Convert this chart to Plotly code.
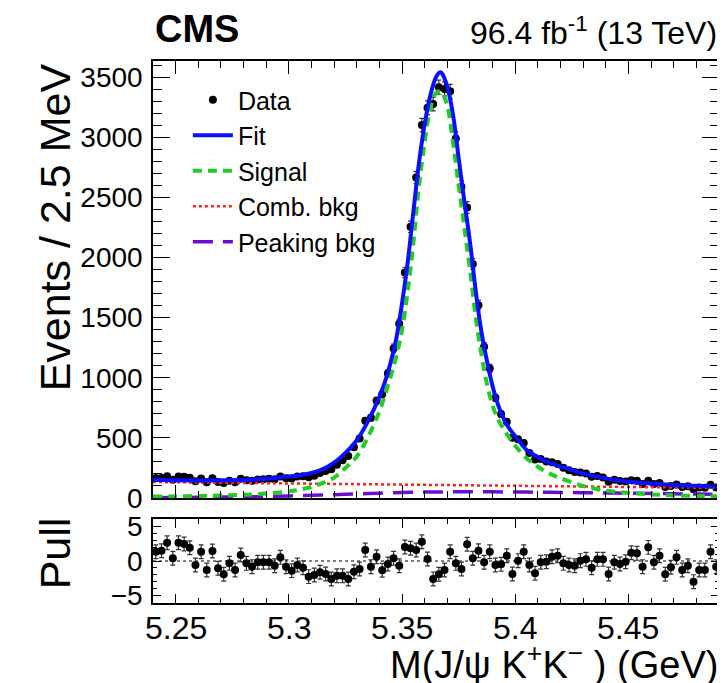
import plotly.graph_objects as go

# ---------------- data ----------------
mass_lo = 5.24
bin_width = 0.0025
n_bins = 100

counts = [166, 167, 180, 152, 179, 177, 169, 139, 162, 130,
          164, 134, 124, 143, 132, 160, 147, 143, 154, 157,
          160, 157, 178, 165, 162, 179, 180, 172, 186, 207,
          224, 239, 277, 315, 349, 423, 494, 643, 668, 808,
          864, 1036, 1244, 1449, 1876, 2256, 2666, 3102, 3246, 3278,
          3417, 3403, 3383, 2991, 2590, 2416, 1947, 1604, 1258, 1078,
          833, 699, 634, 501, 488, 458, 374, 320, 325, 303,
          297, 282, 251, 231, 216, 213, 203, 177, 182, 171,
          136, 151, 141, 138, 148, 143, 117, 144, 117, 124,
          92, 100, 113, 92, 97, 72, 87, 86, 110, 88]

pulls = [1.35, 1.5, 2.66, 0.39, 2.66, 2.46, 1.93, -0.58, 1.35, -1.3,
         1.45, -1.06, -1.93, -0.34, -1.3, 0.87, -0.34, -0.82, -0.19, -0.19,
         -0.19, -0.68, 0.53, -0.82, -1.4, -0.58, -0.97, -2.27, -2.03, -1.64,
         -1.88, -2.61, -2.13, -2.13, -2.61, -1.55, -1.16, 1.59, -0.82, 0.63,
         -1.35, -0.43, 0.39, -0.68, 2.03, 1.84, 1.59, 2.8, 0.29, -2.6,
         -1.93, -1.3, 1.35, -0.34, -1.16, 2.42, 0.39, 1.5, -0.19, 1.35,
         -0.58, -0.48, 0.77, -1.88, 0.05, 1.35, -0.58, -1.79, -0.19, -0.1,
         0.63, 0.77, -0.34, -0.58, -0.68, 0.05, 0.24, -0.97, 0.24, 0.24,
         -1.88, -0.19, -0.43, -0.1, 1.21, 1.11, -0.82, 1.98, -0.19, 0.77,
         -1.93, -0.92, 0.53, -1.3, -0.68, -3.0, -1.3, -1.3, 1.35, -0.82]

curve_mass = [5.240, 5.250, 5.260, 5.270, 5.280, 5.290, 5.300,
              5.305, 5.310, 5.315, 5.320, 5.325, 5.330, 5.335, 5.340,
              5.3425, 5.345, 5.3475, 5.350, 5.3525, 5.355, 5.3575, 5.360, 5.3625, 5.365,
              5.3667, 5.3675,
              5.370, 5.3725, 5.375, 5.3775, 5.380, 5.3825, 5.385, 5.3875, 5.390, 5.3925, 5.395, 5.3975, 5.400,
              5.405, 5.410, 5.415, 5.420,
              5.430, 5.440, 5.450, 5.460, 5.470, 5.480, 5.490]

fit_values = [150, 147, 146, 147, 150, 160, 178,
              190, 208, 240, 295, 375, 480, 640, 840,
              970, 1130, 1330, 1620, 1960, 2380, 2790, 3110, 3350, 3500,
              3540, 3535,
              3420, 3190, 2830, 2470, 2130, 1730, 1390, 1140, 930, 770, 655, 575, 515,
              400, 340, 294, 262,
              205, 163, 136, 120, 108, 101, 95]

signal_values = [12, 14, 17, 21, 27, 37, 55,
                 70, 92, 125, 170, 250, 345, 510, 720,
                 860, 1010, 1180, 1400, 1720, 2120, 2600, 2960, 3240, 3370,
                 3385, 3380,
                 3260, 2960, 2600, 2250, 1900, 1510, 1200, 950, 770, 650, 570, 500, 435,
                 330, 260, 205, 165,
                 100, 62, 42, 30, 22, 17, 14]

comb_mass = [5.24, 5.49]
comb_values = [133, 84]

peak_mass = [5.24, 5.25, 5.26, 5.27, 5.28, 5.29, 5.30, 5.31, 5.32, 5.33, 5.34, 5.35, 5.36,
             5.37, 5.38, 5.39, 5.40, 5.41, 5.42, 5.43, 5.44, 5.45, 5.46, 5.47, 5.48, 5.49]
peak_values = [3, 4, 6, 8, 10, 13, 17, 22, 28, 34, 40, 45, 49,
               51, 52, 51, 50, 48, 46, 44, 42, 40, 38, 35, 33, 31]

x_ticks = [5.25, 5.3, 5.35, 5.4, 5.45]
x_tick_labels = ["5.25", "5.3", "5.35", "5.4", "5.45"]

# ---------------- figure ----------------
FONT = "Liberation Sans, Arial, Helvetica, sans-serif"
# page has an 8px body margin; plot area should sit at page x 153..721, y 61..603
OFF = 8
W, H = 725 - OFF, 683 - OFF
ML, MT = 153 - OFF, 61 - OFF
MR = W - (721 - OFF)
MB = H - (603 - OFF)
PL, PR, PT, PB = 153, 721, 61, 603  # page pixel coordinates of the plot area


def py(p):  # page pixel row -> paper y
    return (PB - p) / (PB - PT)


def px(p):  # page pixel column -> paper x
    return (p - PL) / (PR - PL)


centers = [mass_lo + (i + 0.5) * bin_width for i in range(n_bins)]
errs = [c ** 0.5 for c in counts]

fig = go.Figure()

fig.add_trace(go.Scatter(
    x=centers, y=counts, mode="markers", name="Data",
    marker=dict(color="black", size=8),
    error_y=dict(type="data", array=errs, visible=True, color="#333333", thickness=1.2, width=2.5),
    xaxis="x2", yaxis="y2", legendrank=1))

fig.add_trace(go.Scatter(
    x=comb_mass, y=comb_values, mode="lines", name="Comb. bkg",
    line=dict(color="#ff2020", width=2.5, dash="dot"),
    xaxis="x2", yaxis="y2", legendrank=4))

fig.add_trace(go.Scatter(
    x=peak_mass, y=peak_values, mode="lines", name="Peaking bkg",
    line=dict(color="#6a0fd0", width=3.5, dash="20px,10px", shape="spline"),
    xaxis="x2", yaxis="y2", legendrank=5))

fig.add_trace(go.Scatter(
    x=curve_mass, y=signal_values, mode="lines", name="Signal",
    line=dict(color="#22cc22", width=4, dash="9px,6px", shape="spline"),
    xaxis="x2", yaxis="y2", legendrank=3))

fig.add_trace(go.Scatter(
    x=curve_mass, y=fit_values, mode="lines", name="Fit",
    line=dict(color="#0a10ff", width=4, shape="spline"),
    xaxis="x2", yaxis="y2", legendrank=2))

fig.add_trace(go.Scatter(
    x=centers, y=pulls, mode="markers", showlegend=False,
    marker=dict(color="black", size=8),
    error_y=dict(type="constant", value=1.0, visible=True, color="#333333", thickness=1.2, width=2.5),
    xaxis="x", yaxis="y"))

axis_common = dict(showline=True, linecolor="black", linewidth=1.5, mirror="allticks",
                   ticks="inside", tickcolor="black", tickwidth=1.2,
                   showgrid=False, zeroline=False)

yfont = dict(family=FONT, size=28, color="black")
xfont = dict(family=FONT, size=32, color="black")

# x tick labels placed at the tick values just under the pull panel
tick_annotations = [
    dict(text=lab, x=val, xref="x", y=py(628), yref="paper",
         xanchor="center", yanchor="middle", showarrow=False, font=xfont)
    for val, lab in zip(x_ticks, x_tick_labels)
]

fig.update_layout(
    width=W, height=H,
    margin=dict(l=ML, r=MR, t=MT, b=MB, pad=0),
    paper_bgcolor="white", plot_bgcolor="white",
    font=dict(family=FONT, color="black"),
    xaxis=dict(domain=[0, 1], anchor="y", range=[5.24, 5.49],
               tickvals=x_ticks, showticklabels=False, ticklen=9,
               minor=dict(dtick=0.01, tick0=5.24, ticklen=5, ticks="inside", tickcolor="black", tickwidth=1),
               **axis_common),
    yaxis=dict(domain=[0, py(519)], anchor="x", range=[-6.1, 6.1],
               tickvals=[-5, 0, 5], ticklen=8, tickfont=yfont,
               minor=dict(dtick=1, tick0=0, ticklen=4, ticks="inside", tickcolor="black", tickwidth=1),
               ticklabelstandoff=3, **axis_common),
    xaxis2=dict(domain=[0, 1], anchor="y2", matches="x", range=[5.24, 5.49],
                tickvals=x_ticks, showticklabels=False, ticklen=13,
                minor=dict(dtick=0.01, tick0=5.24, ticklen=7, ticks="inside", tickcolor="black", tickwidth=1),
                **axis_common),
    yaxis2=dict(domain=[py(498), 1], anchor="x2", range=[0, 3635],
                dtick=500, tick0=0, ticklen=17, tickfont=yfont,
                minor=dict(dtick=100, tick0=0, ticklen=9, ticks="inside", tickcolor="black", tickwidth=1),
                ticklabelstandoff=3, **axis_common),
    showlegend=True,
    legend=dict(x=px(188), y=py(77), xanchor="left", yanchor="top",
                bgcolor="rgba(0,0,0,0)", borderwidth=0,
                font=dict(family=FONT, size=25, color="black"),
                tracegroupgap=0, itemwidth=40),
    shapes=[dict(type="line", xref="x domain", yref="y", x0=0, x1=1, y0=0, y1=0,
                 line=dict(color="black", width=1, dash="dot"), layer="below")],
    annotations=tick_annotations + [
        dict(text="<b>CMS</b>", x=px(153), y=py(29), xref="paper", yref="paper",
             xanchor="left", yanchor="middle", showarrow=False,
             font=dict(family=FONT, size=38, color="black")),
        dict(text="96.4 fb<sup>-1</sup> (13 TeV)", x=px(721), y=py(31), xref="paper", yref="paper",
             xanchor="right", yanchor="middle", showarrow=False,
             font=dict(family=FONT, size=32, color="black")),
        dict(text="Events / 2.5 MeV", x=px(55), y=py(61), xref="paper", yref="paper",
             xanchor="center", yanchor="top", textangle=-90, showarrow=False,
             font=dict(family=FONT, size=43, color="black")),
        dict(text="Pull", x=px(55), y=py(553), xref="paper", yref="paper",
             xanchor="center", yanchor="middle", textangle=-90, showarrow=False,
             font=dict(family=FONT, size=43, color="black")),
        dict(text="M(J/ψ K<sup>+</sup>K<sup>−</sup> ) (GeV)", x=px(722), y=py(662), xref="paper", yref="paper",
             xanchor="right", yanchor="middle", showarrow=False,
             font=dict(family=FONT, size=38, color="black")),
    ],
)

fig.write_html("out.html")
